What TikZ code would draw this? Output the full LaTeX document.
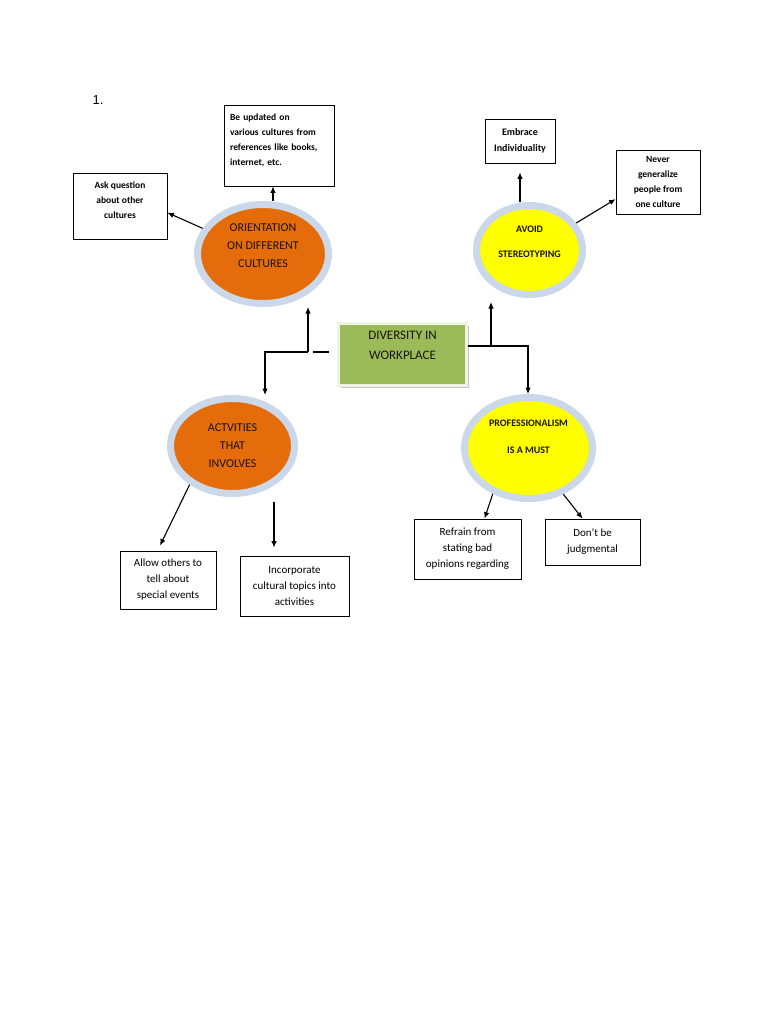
\documentclass[tikz,border=0pt]{standalone}
\usepackage{fontspec}
\setmainfont{Carlito}
\newfontfamily\numfont{Liberation Sans}
\usetikzlibrary{shapes.geometric,arrows.meta,shadows,calc}

\definecolor{ringblue}{HTML}{CBD8EA}
\definecolor{orangefill}{HTML}{E46C0A}
\definecolor{yellowfill}{HTML}{FFFF00}
\definecolor{greenfill}{HTML}{9BBB59}
\definecolor{greenedge}{HTML}{EEF3E2}
\definecolor{darktext}{HTML}{1A140A}

\tikzset{
  box/.style={draw, line width=0.8pt, align=center, inner sep=2pt},
  smalltxt/.style={font=\fontsize{9.5}{15}\selectfont\bfseries},
  bigtxt/.style={font=\fontsize{11}{16}\selectfont},
  bubble/.style={ellipse, draw=ringblue, line width=7pt, align=center, text=darktext, inner sep=0pt},
  orangebub/.style={bubble, fill=orangefill, font=\fontsize{12}{18}\selectfont},
  yellowbub/.style={bubble, fill=yellowfill, font=\fontsize{10}{12}\selectfont\bfseries},
  link/.style={line width=1.1pt, -{Latex[length=6.5pt,width=5.5pt]}}
}

\begin{document}
\begin{tikzpicture}[x=1pt,y=-1pt]
        \useasboundingbox (0,0) rectangle (768,1024);

        \node[font=\numfont\fontsize{13}{15}\selectfont] at (98,100)(num){1.};

        % centre
        \node[box, draw=greenedge, line width=3pt, fill=greenfill, minimum width=128pt, minimum height=62pt,
              drop shadow={shadow xshift=2pt, shadow yshift=-2pt, opacity=.45},
              font=\fontsize{13}{20}\selectfont, text=darktext] at (402.5,354.5)(div){DIVERSITY IN\\WORKPLACE\\[-2pt]~};

        % bubbles
        \node[orangebub, minimum width=131pt, minimum height=99pt] at (263,254)(orient){ORIENTATION\\ON DIFFERENT\\CULTURES\\[-2pt]~};
        \node[yellowbub, minimum width=106pt, minimum height=89pt] at (529.5,250)(avoid){AVOID\\[13pt]STEREOTYPING\\[4pt]~};
        \node[orangebub, minimum width=124pt, minimum height=95pt] at (232.5,446)(act){ACTVITIES\\THAT\\INVOLVES};
        \node[yellowbub, minimum width=128pt, minimum height=101pt] at (528.5,448)(prof){PROFESSIONALISM\\[15pt]IS A MUST\\[10pt]~};

        % boxes
        \node[box, smalltxt, align=left, text width=98pt, minimum width=110pt, minimum height=81pt] at (279,145.5)(update)
            {Be updated on\\various cultures from\\references like books,\\internet, etc.\\[-3pt]~};
        \node[box, smalltxt, minimum width=94pt, minimum height=66pt] at (120,206)(ask){Ask question\\about other\\cultures\\[-4pt]~};
        \node[box, font=\fontsize{10}{16}\selectfont\bfseries, minimum width=70pt, minimum height=44pt] at (520,141)(embrace){Embrace\\Individuality};
        \node[box, smalltxt, minimum width=84pt, minimum height=64pt] at (658,182)(never){Never\\generalize\\people from\\one culture};
        \node[box, bigtxt, minimum width=96pt, minimum height=58pt] at (168,580)(allow){Allow others to\\tell about\\special events};
        \node[box, bigtxt, minimum width=109pt, minimum height=60pt] at (294.5,586)(incorp){Incorporate\\cultural topics into\\activities};
        \node[box, bigtxt, minimum width=107pt, minimum height=60pt] at (467.5,549)(refrain){Refrain from\\stating bad\\opinions regarding};
        \node[box, bigtxt, minimum width=95pt, minimum height=46pt] at (592.5,542)(dont){Don’t be\\judgmental};

        \coordinate (j1) at (308,352);
        \coordinate (j2) at (265,352);
        \coordinate (j3) at (491,346);
        \coordinate (j4) at (528,346);
        \coordinate (updin) at ($(update.south)+(-6,0)$);
        \coordinate (incin) at ($(incorp.north)+(-20.5,0)$);

        \path[link]
        (orient.north -| updin) edge (updin)
        (orient.157) edge (ask.-8)
        (avoid.north -| embrace.south) edge[shorten >=9pt] (embrace.south)
        (avoid.30) edge (never.202)
        (act.222) edge ($(allow.north)+(-8,-5)$)
        (act.south -| incin) edge[shorten <=5pt, shorten >=8pt] (incin)
        (prof.232) edge ($(refrain.north)+(17,0)$)
        (prof.307) edge ($(dont.north)+(-10,0)$)
        ;

        \draw[line width=1.1pt, shorten <=8pt, shorten >=5pt] (div.west |- j1) -- (j1);
        \draw[link] (j1) -- (j1 |- orient.south);
        \draw[link] (j1) -- (j2) -- (j2 |- act.north);
        \draw[line width=1.1pt] (div.east |- j3) -- (j3);
        \draw[link] (j3) -- (j4) -- (j4 |- prof.north);
        \draw[link, shorten >=4pt] (j3) -- (j3 |- avoid.south);
    \end{tikzpicture}
\end{document}
